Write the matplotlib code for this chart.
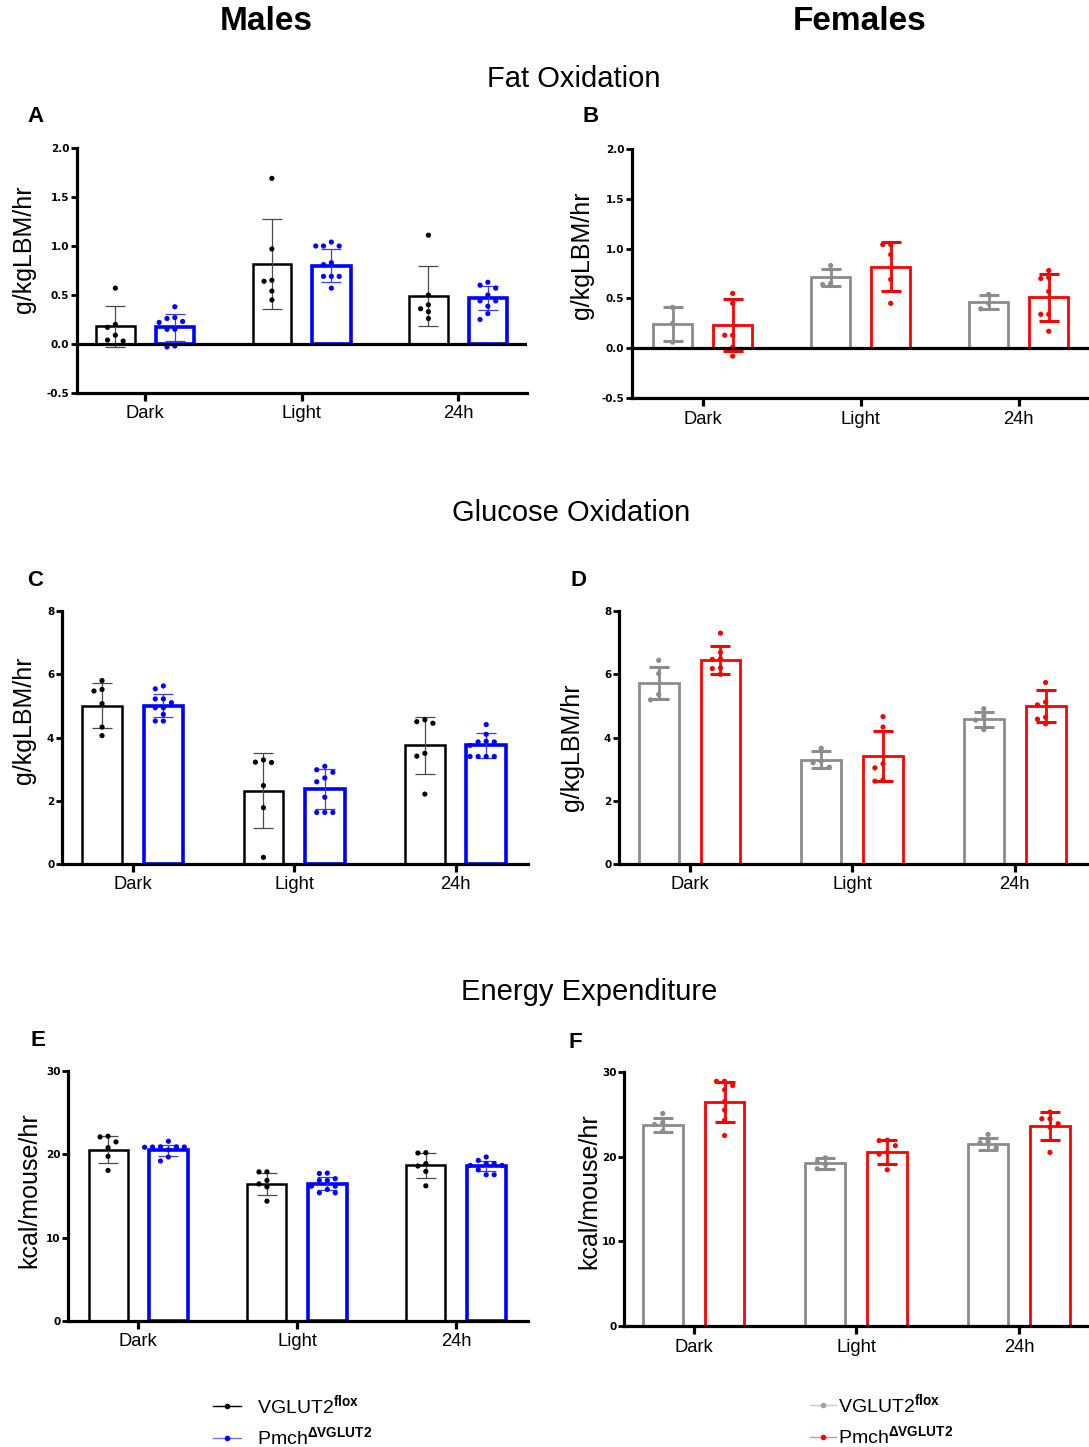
import numpy as np
import matplotlib
matplotlib.use("Agg")
import matplotlib.pyplot as plt
from matplotlib.lines import Line2D

plt.rcParams["font.family"] = ["Liberation Sans", "DejaVu Sans"]
plt.rcParams["mathtext.fontset"] = "custom"
plt.rcParams["mathtext.rm"] = "Liberation Sans"
plt.rcParams["mathtext.bf"] = "Liberation Sans:bold"

periods = ["Dark", "Light", "24h"]

# ---------------- Fat oxidation (g/kgLBM/hr) ----------------
fat_m_ctrl_mean = [0.18, 0.82, 0.49]
fat_m_ctrl_sd = [0.21, 0.46, 0.31]
fat_m_ctrl_pts = [[0.57, 0.20, 0.17, 0.09, 0.04, 0.03],
                  [1.69, 0.97, 0.65, 0.64, 0.54, 0.45],
                  [1.11, 0.50, 0.40, 0.36, 0.33, 0.26]]
fat_m_ko_mean = [0.17, 0.80, 0.47]
fat_m_ko_sd = [0.14, 0.17, 0.12]
fat_m_ko_pts = [[0.38, 0.27, 0.26, 0.23, 0.22, 0.15, 0.15, -0.03, -0.02],
                [1.04, 1.00, 1.00, 1.00, 0.83, 0.81, 0.69, 0.69, 0.69, 0.57],
                [0.63, 0.60, 0.57, 0.50, 0.44, 0.44, 0.385, 0.31, 0.25]]
fat_f_ctrl_mean = [0.24, 0.71, 0.46]
fat_f_ctrl_sd = [0.17, 0.09, 0.07]
fat_f_ctrl_pts = [[0.41, 0.25, 0.06],
                  [0.83, 0.65, 0.64],
                  [0.54, 0.45, 0.395]]
fat_f_ko_mean = [0.23, 0.82, 0.51]
fat_f_ko_sd = [0.26, 0.25, 0.24]
fat_f_ko_pts = [[0.55, 0.45, 0.13, 0.13, 0.01, -0.08],
                [1.04, 1.04, 0.94, 0.69, 0.45],
                [0.78, 0.71, 0.70, 0.57, 0.34, 0.34, 0.17]]

# ---------------- Glucose oxidation (g/kgLBM/hr) ----------------
glu_m_ctrl_mean = [5.01, 2.32, 3.75]
glu_m_ctrl_sd = [0.72, 1.19, 0.89]
glu_m_ctrl_pts = [[5.80, 5.52, 5.47, 5.07, 4.33, 4.06],
                  [3.29, 3.22, 3.21, 2.48, 1.78, 0.21],
                  [4.56, 4.50, 4.45, 3.50, 3.41, 2.21]]
glu_m_ko_mean = [5.01, 2.37, 3.75]
glu_m_ko_sd = [0.35, 0.62, 0.39]
glu_m_ko_pts = [[5.63, 5.54, 5.22, 5.22, 5.10, 4.94, 4.94, 4.73, 4.52, 4.52],
                [3.09, 2.98, 2.90, 2.72, 2.60, 2.11, 1.63, 1.63, 1.63],
                [4.41, 4.10, 3.88, 3.86, 3.86, 3.75, 3.40, 3.40, 3.40, 3.40]]
glu_f_ctrl_mean = [5.72, 3.30, 4.57]
glu_f_ctrl_sd = [0.50, 0.26, 0.24]
glu_f_ctrl_pts = [[6.44, 6.02, 5.36, 5.19],
                  [3.66, 3.25, 3.20, 3.06],
                  [4.91, 4.68, 4.55, 4.25]]
glu_f_ko_mean = [6.45, 3.42, 4.99]
glu_f_ko_sd = [0.45, 0.79, 0.50]
glu_f_ko_pts = [[7.30, 6.69, 6.49, 6.47, 6.20, 6.18, 6.00],
                [4.66, 4.33, 3.17, 3.04, 2.66, 2.62],
                [5.74, 5.12, 5.03, 4.64, 4.58, 4.43]]

# ---------------- Energy expenditure (kcal/mouse/hr) ----------------
ee_m_ctrl_mean = [20.56, 16.47, 18.67]
ee_m_ctrl_sd = [1.65, 1.33, 1.55]
ee_m_ctrl_pts = [[22.17, 22.09, 21.49, 20.80, 19.76, 18.07],
                 [17.90, 17.90, 16.87, 16.45, 16.10, 14.38],
                 [20.20, 20.16, 18.88, 18.60, 17.95, 16.22]]
ee_m_ko_mean = [20.48, 16.47, 18.55]
ee_m_ko_sd = [0.70, 0.77, 0.60]
ee_m_ko_pts = [[21.57, 20.90, 20.90, 20.88, 20.88, 20.85, 20.56, 19.68, 19.20],
               [17.75, 17.70, 17.07, 16.87, 16.87, 16.18, 16.18, 15.78, 15.38, 15.38],
               [19.68, 19.28, 18.88, 18.88, 18.67, 18.67, 18.15, 17.55, 17.55]]
ee_f_ctrl_mean = [23.73, 19.20, 21.48]
ee_f_ctrl_sd = [0.80, 0.60, 0.70]
ee_f_ctrl_pts = [[25.10, 24.04, 23.80, 22.98],
                 [19.87, 19.35, 19.08, 18.57],
                 [22.63, 21.76, 21.64, 21.05]]
ee_f_ko_mean = [26.45, 20.58, 23.57]
ee_f_ko_sd = [2.40, 1.40, 1.65]
ee_f_ko_pts = [[28.90, 28.90, 28.40, 27.90, 26.50, 25.50, 24.30, 22.50],
               [21.95, 21.90, 21.30, 20.50, 20.30, 18.45],
               [25.27, 24.48, 24.48, 23.89, 23.49, 20.50]]

W, H = 1089, 1447
fig = plt.figure(figsize=(W / 100, H / 100), dpi=100)


def px_rect(x0, y0, x1, y1):
    return [x0 / W, 1 - y1 / H, (x1 - x0) / W, (y1 - y0) / H]


def swarm_offsets(vals, yspan, step=0.05):
    order = np.argsort(vals)[::-1]
    placed = []
    offs = np.zeros(len(vals))
    cands = [0, -1, 1, -2, 2, -3, 3]
    for i in order:
        v = vals[i]
        for c in cands:
            ok = True
            for (pv, pc) in placed:
                if abs(pv - v) < 0.025 * yspan and pc == c:
                    ok = False
                    break
            if ok:
                offs[i] = c * step
                placed.append((v, c))
                break
    return offs


def panel(rect, xlim, ylim, yticks, yticklabels, series, zero_line, ylabel,
          ylabel_xy, thick_err):
    ax = fig.add_axes(rect)
    x = np.arange(len(periods))
    bw = 0.245
    off = 0.19
    yspan = ylim[1] - ylim[0]
    for k, s in enumerate(series):
        xs = x + (-off if k == 0 else off)
        ax.bar(xs, s["mean"], width=bw, facecolor="white",
               edgecolor=s["color"], linewidth=s["lw"], zorder=2)
        if thick_err:
            ax.errorbar(xs, s["mean"], yerr=s["sd"], fmt="none",
                        ecolor=s["ecolor"], elinewidth=2.0, capsize=7,
                        capthick=2.2, zorder=3)
        else:
            ax.errorbar(xs, s["mean"], yerr=s["sd"], fmt="none",
                        ecolor=s["ecolor"], elinewidth=0.9, capsize=7.5,
                        capthick=0.9, zorder=3)
        for j, pts in enumerate(s["pts"]):
            pts = np.asarray(pts)
            dx = swarm_offsets(pts, yspan)
            ax.scatter(xs[j] + dx, pts, s=14, color=s["color"],
                       edgecolors="none", zorder=4)
    ax.set_xlim(*xlim)
    ax.set_ylim(*ylim)
    ax.set_yticks(yticks)
    ax.set_yticklabels(yticklabels, fontfamily="DejaVu Sans",
                       fontweight="bold", fontsize=7.5)
    ax.set_xticks(x)
    ax.set_xticklabels(periods, fontsize=13.2)
    for sp in ["top", "right"]:
        ax.spines[sp].set_visible(False)
    for sp in ["left", "bottom"]:
        ax.spines[sp].set_linewidth(2.3)
    ax.tick_params(axis="y", length=4, width=2.0, pad=1.5)
    ax.tick_params(axis="x", length=6, width=2.3, pad=3)
    if zero_line:
        ax.axhline(0, color="black", linewidth=2.3, zorder=5)
    ax.text(ylabel_xy[0], ylabel_xy[1], ylabel, rotation=90, ha="center",
            va="center", fontsize=18, transform=fig.transFigure)
    return ax


male_c = "black"
male_k = "#0000FF"
fem_c = "#8C8C8C"
fem_k = "#FF0000"


def male_series(cm, csd, cp, km, ksd, kp):
    return [dict(mean=cm, sd=csd, pts=cp, color=male_c, lw=1.8,
                 ecolor="#4a4a4a"),
            dict(mean=km, sd=ksd, pts=kp, color=male_k, lw=2.6,
                 ecolor="#3a3aff")]


def fem_series(cm, csd, cp, km, ksd, kp):
    return [dict(mean=cm, sd=csd, pts=cp, color=fem_c, lw=2.0,
                 ecolor=fem_c),
            dict(mean=km, sd=ksd, pts=kp, color=fem_k, lw=2.0,
                 ecolor=fem_k)]


fat_ticks = [-0.5, 0.0, 0.5, 1.0, 1.5, 2.0]
fat_lbl = ["-0.5", "0.0", "0.5", "1.0", "1.5", "2.0"]
glu_ticks = [0, 2, 4, 6, 8]
ee_ticks = [0, 10, 20, 30]

# A
panel(px_rect(77, 148, 527, 393), (-0.435, 2.44), (-0.5, 2.0), fat_ticks,
      fat_lbl, male_series(fat_m_ctrl_mean, fat_m_ctrl_sd, fat_m_ctrl_pts,
                           fat_m_ko_mean, fat_m_ko_sd, fat_m_ko_pts),
      True, "g/kgLBM/hr", (24 / W, 1 - 249 / H), False)
# B
panel(px_rect(632, 149, 1089, 398), (-0.447, 2.445), (-0.5, 2.0), fat_ticks,
      fat_lbl, fem_series(fat_f_ctrl_mean, fat_f_ctrl_sd, fat_f_ctrl_pts,
                          fat_f_ko_mean, fat_f_ko_sd, fat_f_ko_pts),
      True, "g/kgLBM/hr", (582 / W, 1 - 255 / H), True)
# C
panel(px_rect(62, 611, 528, 864), (-0.438, 2.449), (0, 8), glu_ticks,
      [str(t) for t in glu_ticks],
      male_series(glu_m_ctrl_mean, glu_m_ctrl_sd, glu_m_ctrl_pts,
                  glu_m_ko_mean, glu_m_ko_sd, glu_m_ko_pts),
      False, "g/kgLBM/hr", (24 / W, 1 - 720 / H), False)
# D
panel(px_rect(619, 611, 1089, 864), (-0.434, 2.457), (0, 8), glu_ticks,
      [str(t) for t in glu_ticks],
      fem_series(glu_f_ctrl_mean, glu_f_ctrl_sd, glu_f_ctrl_pts,
                 glu_f_ko_mean, glu_f_ko_sd, glu_f_ko_pts),
      False, "g/kgLBM/hr", (572 / W, 1 - 747 / H), True)
# E
panel(px_rect(68, 1071, 528, 1321), (-0.442, 2.453), (0, 30), ee_ticks,
      [str(t) for t in ee_ticks],
      male_series(ee_m_ctrl_mean, ee_m_ctrl_sd, ee_m_ctrl_pts,
                  ee_m_ko_mean, ee_m_ko_sd, ee_m_ko_pts),
      False, "kcal/mouse/hr", (29 / W, 1 - 1190 / H), False)
# F
panel(px_rect(624, 1072, 1089, 1326), (-0.428, 2.43), (0, 30), ee_ticks,
      [str(t) for t in ee_ticks],
      fem_series(ee_f_ctrl_mean, ee_f_ctrl_sd, ee_f_ctrl_pts,
                 ee_f_ko_mean, ee_f_ko_sd, ee_f_ko_pts),
      False, "kcal/mouse/hr", (589 / W, 1 - 1191 / H), True)


def ftext(x, y, s, **kw):
    fig.text(x / W, 1 - y / H, s, ha="center", va="center", **kw)


ftext(266, 22, "Males", fontsize=24, fontweight="bold")
ftext(860, 22, "Females", fontsize=24, fontweight="bold")
ftext(574, 79, "Fat Oxidation", fontsize=21)
ftext(571, 513, "Glucose Oxidation", fontsize=21)
ftext(589, 992, "Energy Expenditure", fontsize=21)
for lbl, (x, y) in zip("ABCDEF", [(35, 116), (591, 116), (35, 581),
                                  (578, 581), (38, 1040), (575, 1043)]):
    ftext(x, y, lbl, fontsize=16, fontweight="bold")

# Legends
legend_rows = [
    (213, 241, 1406, "black", "black", 257, r"VGLUT2$^{\mathbf{flox}}$"),
    (213, 241, 1438, "#7070ff", "#0000FF", 257, r"Pmch$^{\mathbf{\Delta VGLUT2}}$"),
    (810, 836, 1405, "#c8c8c8", "#a0a0a0", 838, r"VGLUT2$^{\mathbf{flox}}$"),
    (810, 836, 1437, "#ff8080", "#FF0000", 838, r"Pmch$^{\mathbf{\Delta VGLUT2}}$"),
]
for x0, x1, y, lc, mc, tx, txt in legend_rows:
    fig.add_artist(Line2D([x0 / W, x1 / W], [1 - y / H, 1 - y / H],
                          color=lc, linewidth=1.0, transform=fig.transFigure))
    fig.add_artist(Line2D([(x0 + x1) / 2 / W], [1 - y / H], marker="o",
                          markersize=3, color=mc, linestyle="none",
                          transform=fig.transFigure))
    fig.text(tx / W, 1 - y / H, txt, ha="left", va="center", fontsize=14)

fig.savefig("out.png", dpi=100)
